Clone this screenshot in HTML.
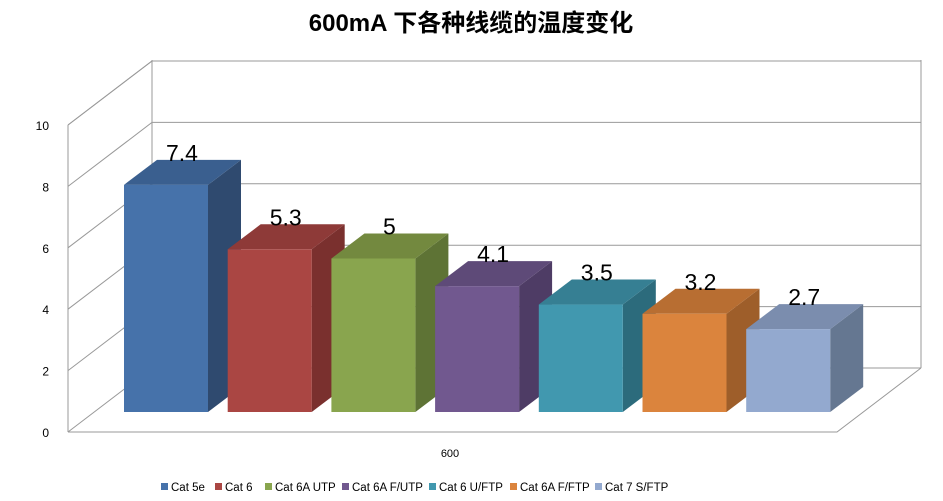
<!DOCTYPE html>
<html><head><meta charset="utf-8"><style>
body{margin:0;background:#fff;}
svg{display:block;font-family:"Liberation Sans","Noto Sans CJK SC",sans-serif;}
</style></head><body>
<svg id="c" width="943" height="501" viewBox="0 0 943 501">
<text x="471" y="31" text-anchor="middle" font-size="24" font-weight="bold" fill="#000">600mA 下各种线缆的温度变化</text>
</svg>
<script>
const categories=["Cat 5e","Cat 6","Cat 6A UTP","Cat 6A F/UTP","Cat 6 U/FTP","Cat 6A F/FTP","Cat 7 S/FTP"];
const values=[7.4,5.3,5,4.1,3.5,3.2,2.7];
const tickLabels=["0","2","4","6","8","10"];
const tickValues=[0,2,4,6,8,10];
const xLabel="600";
const colors=[["#4672AA","#3A5F8F","#2F4A6F"],["#AA4643","#8E3A38","#7A302E"],["#89A54E","#73893F","#5E7335"],["#71588F","#5E4A78","#4E3C65"],["#4198AF","#367F93","#2C6B7C"],["#DB843D","#B86E32","#9E5E2A"],["#93A9CF","#7B8DAE","#657791"]];
const svg=document.getElementById('c');const NS="http://www.w3.org/2000/svg";
function mk(t,a,p){const e=document.createElementNS(NS,t);for(const k in a)e.setAttribute(k,a[k]);(p||svg).appendChild(e);return e;}
const unit=30.7, fx=68, fy0=432, dx=84, dy=-64, backR=921;
function yFront(v){return fy0-v*unit;}
// walls
const g=mk('g',{});


mk('polyline',{points:`${fx},${fy0-10*unit} ${fx+dx},${fy0-10*unit+dy} ${backR},${fy0-10*unit+dy}`,fill:'none',stroke:'#999'},g);
tickValues.forEach((v,i)=>{
  const y=yFront(v);
  const l=mk('polyline',{points:`${fx},${y} ${fx+dx},${y+dy} ${backR},${y+dy}`,fill:'none',stroke:'#999'},g);
  
  
  const t=mk('text',{x:fx-19,y:y+5,'text-anchor':'end','font-size':'12',fill:'#000'});
  
  
  t.textContent=tickLabels[i];
});
mk('line',{x1:fx,y1:yFront(0),x2:fx,y2:yFront(10),stroke:'#999'},g);
mk('line',{x1:fx+dx,y1:yFront(10)+dy-1,x2:fx+dx,y2:fy0+dy,stroke:'#999'},g);
mk('line',{x1:backR,y1:yFront(10)+dy-1,x2:backR,y2:fy0+dy,stroke:'#999'},g);
mk('polyline',{points:`${fx},${fy0} ${837},${fy0} ${backR},${fy0+dy}`,fill:'none',stroke:'#999'},g);
// bars
const x0=124,step=103.7,bw=84,base=412,ox=33,oy=-25;
values.forEach((v,i)=>{
  const c=colors[i];const L=x0+i*step,R=L+bw,T=base-v*unit;
  const bg=mk('g',{});
  
  
  mk('polygon',{points:`${R},${T} ${R+ox},${T+oy} ${R+ox},${base+oy} ${R},${base}`,fill:c[2]},bg);
  mk('polygon',{points:`${L},${T} ${L+ox},${T+oy} ${R+ox},${T+oy} ${R},${T}`,fill:c[1]},bg);
  mk('rect',{x:L,y:T,width:bw,height:base-T,fill:c[0]},bg);
  const t=mk('text',{x:(L+R)/2+16,y:T-24,'text-anchor':'middle','font-size':'23',fill:'#000'});
  
  
  t.textContent=String(v);
});
const xl=mk('text',{x:450,y:457,'text-anchor':'middle','font-size':'11',fill:'#000'});


xl.textContent=xLabel;
// legend
const legX=[161,215,265,342,429,510,595];
categories.forEach((n,i)=>{
  const lg=mk('g',{});
  
  
  mk('rect',{x:legX[i],y:483,width:7,height:7,fill:colors[i][0]},lg);
  const t=mk('text',{x:legX[i]+10,y:491,'font-size':'11.5',fill:'#000'},lg);
  t.textContent=n;
});
</script>
</body></html>
